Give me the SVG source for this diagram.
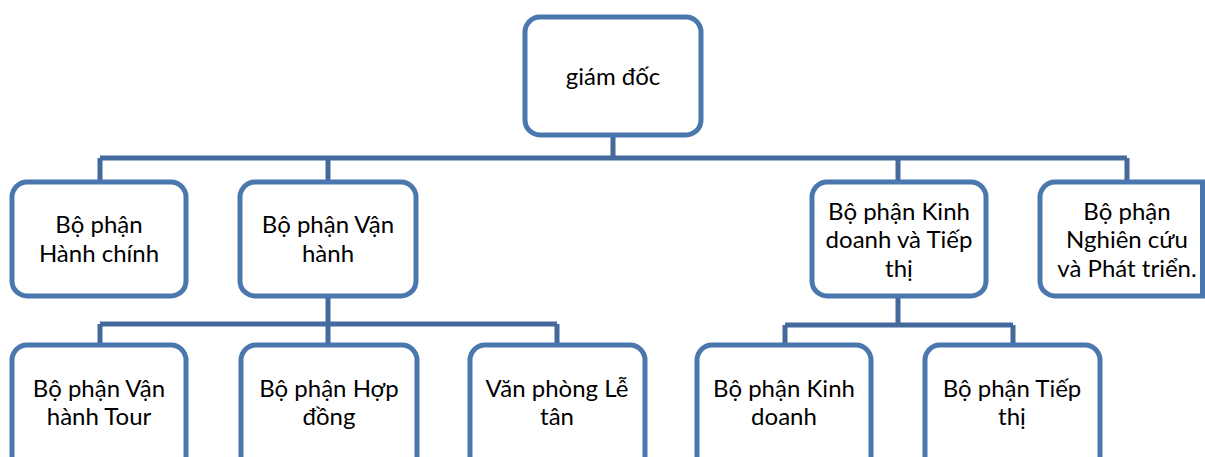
<svg xmlns="http://www.w3.org/2000/svg" width="1205" height="457" viewBox="0 0 1205 457">
<style>
.box{fill:#fff;stroke:#4A77AD;stroke-width:5}
.con{fill:none;stroke:#44699C;stroke-width:5}
text{font-family:Lato,"Noto Sans",sans-serif;font-size:24px;fill:#000;text-anchor:middle}
</style>
<rect width="1205" height="457" fill="#fff"/>
<g id="connectors">
<path class="con" d="M613 135V158M100 158H1127M100 158V182M328 158V182M898 158V182M1127 158V182"/>
<path class="con" d="M328 296V324M100 324H557M100 324V345M328 324V345M557 324V345"/>
<path class="con" d="M898 296V325M785 325H1013M785 325V345M1013 325V345"/>
</g>
<g id="n-giamdoc"><rect class="box" x="525" y="17" width="176" height="118" rx="15"/><text x="613" y="85">giám đốc</text></g>
<g id="n-hanhchinh"><rect class="box" x="12" y="182" width="174" height="114" rx="15"/><text x="99" y="233">Bộ phận</text><text x="99" y="262">Hành chính</text></g>
<g id="n-vanhanh"><rect class="box" x="240" y="182" width="176" height="114" rx="15"/><text x="328" y="233">Bộ phận Vận</text><text x="328" y="262">hành</text></g>
<g id="n-kinhdoanhtiepthi"><rect class="box" x="812" y="182" width="174" height="114" rx="15"/><text x="899" y="220">Bộ phận Kinh</text><text x="899" y="248">doanh và Tiếp</text><text x="899" y="277">thị</text></g>
<g id="n-nghiencuu"><path class="box" d="M1055 182H1202.5V296H1055A15 15 0 0 1 1040 281V197A15 15 0 0 1 1055 182Z"/><text x="1127" y="220">Bộ phận</text><text x="1127" y="248">Nghiên cứu</text><text x="1127" y="277">và Phát triển.</text></g>
<g id="n-tour"><rect class="box" x="12" y="345" width="174" height="130" rx="15"/><text x="99" y="397">Bộ phận Vận</text><text x="99" y="425">hành Tour</text></g>
<g id="n-hopdong"><rect class="box" x="241" y="345" width="176" height="130" rx="15"/><text x="329" y="397">Bộ phận Hợp</text><text x="329" y="425">đồng</text></g>
<g id="n-letan"><rect class="box" x="470" y="345" width="175" height="130" rx="15"/><text x="557" y="397">Văn phòng Lễ</text><text x="557" y="425">tân</text></g>
<g id="n-kinhdoanh"><rect class="box" x="697" y="345" width="174" height="130" rx="15"/><text x="784" y="397">Bộ phận Kinh</text><text x="784" y="425">doanh</text></g>
<g id="n-tiepthi"><rect class="box" x="925" y="345" width="175" height="130" rx="15"/><text x="1012" y="397">Bộ phận Tiếp</text><text x="1012" y="425">thị</text></g>
</svg>
